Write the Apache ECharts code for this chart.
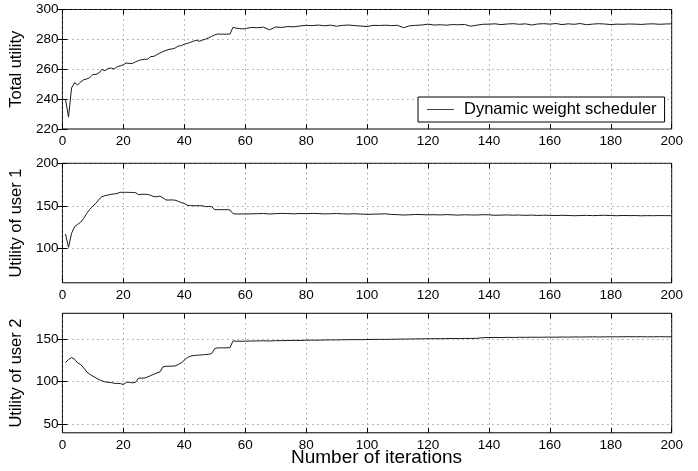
<!DOCTYPE html>
<html>
<head>
<meta charset="utf-8">
<title>Dynamic weight scheduler</title>
<script src="https://cdn.jsdelivr.net/npm/echarts@6/dist/echarts.min.js"></script>
<style>
  html, body { margin: 0; padding: 0; background: #fff; }
  #chart { width: 698px; height: 471px; }
</style>
</head>
<body>
<div id="chart"></div>
<script>
// iteration index, step 1 up to 60 then step 2
const iterations = [
  1, 2, 3, 4, 5, 6, 7, 8, 9, 10,
  11, 12, 13, 14, 15, 16, 17, 18, 19, 20,
  21, 22, 23, 24, 25, 26, 27, 28, 29, 30,
  31, 32, 33, 34, 35, 36, 37, 38, 39, 40,
  41, 42, 43, 44, 45, 46, 47, 48, 49, 50,
  51, 52, 53, 54, 55, 56, 57, 58, 59, 60,
  62, 64, 66, 68, 70, 72, 74, 76, 78, 80,
  82, 84, 86, 88, 90, 92, 94, 96, 98, 100,
  102, 104, 106, 108, 110, 112, 114, 116, 118, 120,
  122, 124, 126, 128, 130, 132, 134, 136, 138, 140,
  142, 144, 146, 148, 150, 152, 154, 156, 158, 160,
  162, 164, 166, 168, 170, 172, 174, 176, 178, 180,
  182, 184, 186, 188, 190, 192, 194, 196, 198, 200
]

const totalUtility = [
  240, 228, 247.5, 251, 249.5, 251.5, 253, 253.5, 254.5, 256.5,
  256.5, 257.5, 260, 259, 260.5, 260.8, 260.2, 261.7, 262.3, 263,
  264.2, 263.8, 263.9, 265, 265.8, 266.4, 266.6, 266.8, 268.5, 268.6,
  269.8, 270.8, 271.9, 272.6, 273.3, 273.6, 274.2, 275.5, 275.8, 276.8,
  277.3, 278, 278.8, 279.4, 278.7, 279.6, 280.2, 281, 282, 283,
  283.6, 283.5, 283.5, 283.5, 283.6, 288.1, 287.5, 287.3, 287, 287.2,
  288, 287.8, 288.2, 286.4, 288.3, 288, 288.6, 288.4, 289, 289.4,
  289.2, 289.6, 289.1, 289.5, 288.8, 289.4, 289.6, 289.2, 288.9, 288.6,
  289.4, 289.3, 289.5, 289.2, 289.4, 287.8, 289.1, 289.4, 289.6, 290.2,
  289.6, 289.8, 289.5, 289.9, 289.8, 290, 288.8, 289.5, 290.1, 290.2,
  290.4, 289.9, 290.3, 290.5, 290.1, 290.4, 289.6, 290.3, 290.5, 290.2,
  290.6, 289.9, 290.4, 290.1, 290.6, 289.8, 290.2, 290.5, 290.3, 289.9,
  290.2, 290.1, 290.3, 290.2, 290, 290.3, 290.4, 290.1, 290.3, 290.4
]

const user1Utility = [
  117.2, 101.6, 118, 125.8, 128.5, 130.9, 135.6, 141.4, 146.1, 150,
  153.1, 157.8, 160.9, 162.1, 162.9, 163.7, 164.1, 164.8, 166, 166,
  166, 165.9, 165.8, 165.6, 163.3, 163.7, 163.7, 163.5, 162.5, 160.9,
  160.9, 161.6, 159.4, 157, 157, 157.1, 156.8, 155.5, 154, 153.1,
  150.8, 150.4, 150.4, 150.3, 150.4, 150.2, 149.2, 149.4, 149.2, 145.7,
  145.7, 145.7, 145.6, 145.7, 145.3, 141, 140.6, 140.6, 140.7, 140.6,
  140.8, 141, 141.2, 140.6, 141, 141.3, 141.1, 140.8, 141.2, 141,
  141.3, 141.1, 140.7, 140.9, 141.2, 140.8, 140.6, 140.9, 140.5, 140.2,
  140.4, 140.6, 140.8, 140.1, 139.8, 139.4, 139.7, 140.1, 139.9, 139.6,
  139.8, 139.5, 139.9, 139.6, 139.3, 139.7, 139.5, 139.4, 139.8, 139.6,
  139.1, 139.3, 139.5, 139.2, 139.4, 139, 139.3, 138.9, 139.2, 139,
  138.8, 139.1, 138.9, 138.6, 138.8, 139, 138.7, 138.9, 139.1, 138.8,
  138.6, 138.9, 138.7, 138.8, 138.5, 138.7, 138.6, 138.8, 138.7, 138.6
]

const user2Utility = [
  122.3, 125.8, 128.2, 126.2, 121.9, 120, 116, 111.3, 108.6, 106.3,
  104.3, 102.4, 100.8, 99.6, 99.2, 98.8, 98.1, 97.7, 97.7, 96.5,
  99.2, 99.2, 98.5, 99.2, 104, 104, 104.2, 105.5, 107.1, 108.6,
  110.2, 111.3, 117.2, 118, 118, 118.1, 118.3, 120, 121.9, 125,
  128.2, 129.7, 130.5, 130.8, 131.1, 131.4, 131.7, 132, 132.9, 138.7,
  139.5, 139.5, 139.5, 139.6, 139.7, 147.7, 147.3, 147.3, 147.2, 147.4,
  147.5, 147.6, 147.8, 147.6, 147.9, 148, 148.1, 148.3, 148.2, 148.5,
  148.6, 148.5, 148.8, 148.9, 148.8, 149, 149.1, 149.2, 149.1, 149.3,
  149.4, 149.5, 149.4, 149.6, 149.7, 149.8, 149.9, 150, 150.1, 150.2,
  150.3, 150.2, 150.4, 150.5, 150.4, 150.6, 150.5, 150.7, 151.4, 151.6,
  151.7, 151.6, 151.8, 151.7, 151.9, 151.8, 152, 151.9, 152, 152.1,
  152, 152.2, 152.1, 152.3, 152.2, 152.3, 152.4, 152.3, 152.4, 152.5,
  152.4, 152.5, 152.6, 152.5, 152.6, 152.4, 152.5, 152.6, 152.5, 152.4
]

const yTicksTotal = [220, 240, 260, 280, 300]
const yTicksUser1 = [100, 150, 200]
const yTicksUser2 = [50, 100, 150]

const seriesName = 'Dynamic weight scheduler'
const font = '"Liberation Sans", Arial, Helvetica, sans-serif'

const panels = [
  { top: 9.5, name: 'Total utility', min: 220, max: 300, ticks: yTicksTotal, values: totalUtility },
  { top: 163.3, name: 'Utility of user 1', min: 60, max: 200, ticks: yTicksUser1, values: user1Utility },
  { top: 313.3, name: 'Utility of user 2', min: 40, max: 180, ticks: yTicksUser2, values: user2Utility }
]

const gridLine = { show: true, lineStyle: { color: '#777', width: 1, type: [1, 4] } }

var grid = []
var xAxis = []
var yAxis = []
var series = []

panels.forEach((p, i) => {
  grid.push({
    left: 58.3, width: 613.4, top: p.top, height: 119.5,
    show: true, borderColor: '#000', borderWidth: 1, backgroundColor: '#fff'
  })
  // bottom axis with labels, top axis only for inner ticks
  xAxis.push({
    gridIndex: i, type: 'value', position: 'bottom', min: 0, max: 200, interval: 20,
    axisLine: { show: false },
    axisTick: { show: true, inside: true, length: 5, lineStyle: { color: '#000' } },
    axisLabel: { show: true, color: '#000', fontSize: 13.5, fontFamily: font, margin: 5 },
    splitLine: gridLine
  })
  xAxis.push({
    gridIndex: i, type: 'value', position: 'top', min: 0, max: 200, interval: 20,
    axisLine: { show: false },
    axisTick: { show: true, inside: true, length: 5, lineStyle: { color: '#000' } },
    axisLabel: { show: false },
    splitLine: { show: false }
  })
  yAxis.push({
    gridIndex: i, type: 'value', position: 'left', min: p.min, max: p.max,
    name: p.name, nameLocation: 'middle', nameGap: 25,
    nameTextStyle: { color: '#000', fontSize: 16.5, fontFamily: font },
    axisLine: { show: false },
    axisTick: { show: true, inside: true, length: 5, customValues: p.ticks, lineStyle: { color: '#000' } },
    axisLabel: { show: true, color: '#000', fontSize: 13.5, fontFamily: font, margin: 4, customValues: p.ticks },
    splitLine: gridLine
  })
  yAxis.push({
    gridIndex: i, type: 'value', position: 'right', min: p.min, max: p.max,
    axisLine: { show: false },
    axisTick: { show: true, inside: true, length: 5, customValues: p.ticks, lineStyle: { color: '#000' } },
    axisLabel: { show: false },
    splitLine: { show: false }
  })
  series.push({
    name: i === 0 ? seriesName : 'panel' + (i + 1),
    type: 'line',
    xAxisIndex: i * 2,
    yAxisIndex: i * 2,
    symbol: 'none',
    data: p.values.map((v, k) => [iterations[k], v]),
    lineStyle: { color: '#1a1a1a', width: 1 },
    itemStyle: { color: '#1a1a1a' },
    animation: false
  })
})

const chart = echarts.init(document.getElementById('chart'), null, { renderer: 'canvas' })
chart.setOption({
  animation: false,
  backgroundColor: '#fff',
  textStyle: { fontFamily: font },
  grid: grid,
  xAxis: xAxis,
  yAxis: yAxis,
  legend: {
    data: [seriesName],
    left: 418,
    top: 97,
    padding: [4, 8, 4, 9],
    icon: 'rect',
    itemWidth: 27,
    itemHeight: 1,
    itemStyle: { color: '#444' },
    backgroundColor: '#fff',
    borderColor: '#000',
    borderWidth: 1,
    borderRadius: 0,
    textStyle: { color: '#000', fontSize: 16.5, fontFamily: font, padding: [0, 0, 0, 5], lineHeight: 17 }
  },
  graphic: [{
    type: 'text',
    x: 376.5,
    y: 458,
    style: {
      text: 'Number of iterations',
      fill: '#000',
      font: '19px ' + font,
      textAlign: 'center',
      textVerticalAlign: 'middle'
    }
  }],
  series: series
})
</script>
</body>
</html>
